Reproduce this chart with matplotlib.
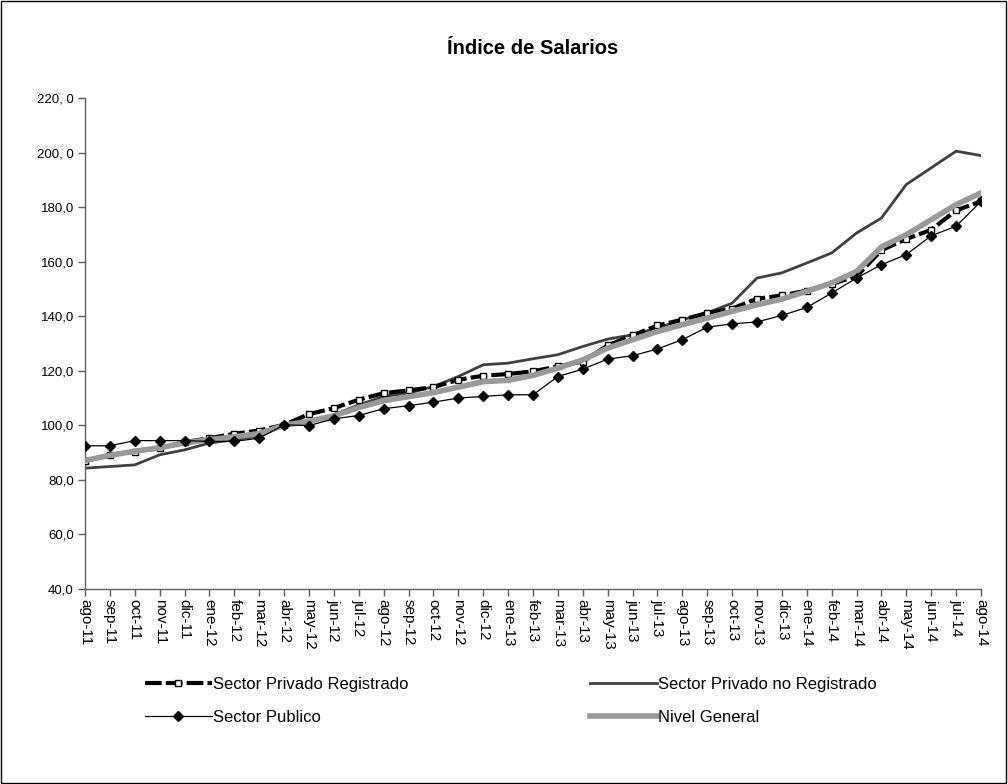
import numpy as np
import matplotlib
matplotlib.use("Agg")
import matplotlib.pyplot as plt
from matplotlib.patches import Rectangle

plt.rcParams['font.family'] = ['Liberation Sans', 'DejaVu Sans']

# meses ago-11 .. ago-14
meses = ['ago-11', 'sep-11', 'oct-11', 'nov-11', 'dic-11', 'ene-12', 'feb-12', 'mar-12',
         'abr-12', 'may-12', 'jun-12', 'jul-12', 'ago-12', 'sep-12', 'oct-12', 'nov-12',
         'dic-12', 'ene-13', 'feb-13', 'mar-13', 'abr-13', 'may-13', 'jun-13', 'jul-13',
         'ago-13', 'sep-13', 'oct-13', 'nov-13', 'dic-13', 'ene-14', 'feb-14', 'mar-14',
         'abr-14', 'may-14', 'jun-14', 'jul-14', 'ago-14']

privado_registrado = [87.0, 89.2, 90.4, 91.6, 93.8, 95.3, 96.9, 98.1, 100.2, 104.1, 106.3,
                      109.4, 111.8, 112.8, 114.0, 116.7, 118.2, 118.8, 119.8, 121.6, 123.4,
                      129.3, 133.0, 136.6, 138.7, 141.2, 142.8, 146.4, 147.6, 149.4, 151.9,
                      154.6, 164.2, 168.3, 171.7, 178.8, 182.1]

privado_no_registrado = [84.3, 84.9, 85.5, 89.2, 91.0, 93.5, 94.7, 96.1, 99.9, 101.4, 103.9,
                         107.5, 110.6, 111.8, 114.2, 117.9, 122.2, 122.8, 124.4, 125.9, 128.9,
                         131.6, 133.2, 135.7, 138.7, 141.2, 144.8, 154.0, 155.9, 159.5, 163.2,
                         170.5, 176.0, 188.3, 194.4, 200.5, 198.9]

publico = [92.5, 92.5, 94.4, 94.4, 94.4, 94.1, 94.1, 95.3, 100.2, 99.9, 102.4, 103.6, 106.1,
           107.2, 108.5, 110.0, 110.6, 111.2, 111.2, 117.9, 120.6, 124.3, 125.5, 128.0, 131.4,
           136.0, 137.2, 137.9, 140.3, 143.2, 148.5, 154.0, 158.9, 162.6, 169.5, 173.0, 182.1]

nivel_general = [87.1, 89.0, 90.5, 91.8, 93.5, 94.8, 95.8, 97.0, 100.0, 101.5, 103.5, 106.5,
                 109.0, 110.5, 112.0, 114.0, 116.0, 116.5, 118.3, 121.0, 124.0, 128.3, 131.4,
                 134.4, 136.9, 139.3, 141.8, 144.2, 146.3, 149.1, 152.2, 156.4, 165.4, 169.9,
                 175.4, 180.9, 185.2]

y_ticks = [40, 60, 80, 100, 120, 140, 160, 180, 200, 220]
y_labels = ['40,0', '60,0', '80,0', '100,0', '120,0', '140,0', '160,0', '180,0', '200, 0', '220, 0']

fig = plt.figure(figsize=(10.08, 7.84), dpi=100)
ax = fig.add_axes([85 / 1008, 1 - 589 / 784, 896 / 1008, (589 - 98) / 784])

x = np.arange(len(meses))

ax.plot(x, privado_registrado, color='black', lw=3, dashes=(4, 1),
        marker='s', ms=5, mfc='white', mec='black', mew=1,
        label='Sector Privado Registrado', zorder=3)
ax.plot(x, privado_no_registrado, color='#404040', lw=2,
        label='Sector Privado no Registrado', zorder=2)
ax.plot(x, nivel_general, color='#999999', lw=4,
        label='Nivel General', zorder=4)
ax.plot(x, publico, color='black', lw=0.9, marker='D', ms=5.5,
        label='Sector Publico', zorder=5)

ax.set_xlim(0, 36)
ax.set_ylim(40, 220)
ax.set_xticks(x)
ax.set_xticklabels(meses, rotation=-90, fontsize=11)
ax.set_yticks(y_ticks)
ax.set_yticklabels(y_labels, fontsize=9.5)

for side in ['top', 'right']:
    ax.spines[side].set_visible(False)
for side in ['left', 'bottom']:
    ax.spines[side].set_color('#606060')
    ax.spines[side].set_linewidth(1)
ax.tick_params(axis='both', direction='out', length=5, color='#606060', width=1, pad=3)
ax.tick_params(axis='x', pad=2)

fig.text(533 / 1008, 1 - 48 / 784, 'Índice de Salarios', ha='center', va='center',
         fontsize=14.5, fontweight='bold')

h = {l.get_label(): l for l in ax.get_lines()}
leg_kw = dict(loc='upper left', frameon=False, handlelength=4.0, handletextpad=0.1,
              labelspacing=1.1, borderpad=0, borderaxespad=0, numpoints=1,
              prop={'size': 12})
leg1 = fig.legend([h['Sector Privado Registrado'], h['Sector Publico']],
                  ['Sector Privado Registrado', 'Sector Publico'],
                  bbox_to_anchor=(145 / 1008, 1 - 677 / 784), **leg_kw)
leg2 = fig.legend([h['Sector Privado no Registrado'], h['Nivel General']],
                  ['Sector Privado no Registrado', 'Nivel General'],
                  bbox_to_anchor=(590 / 1008, 1 - 677 / 784), **leg_kw)

fig.patches.append(Rectangle((0.0005, 0.0007), 0.998, 0.998, transform=fig.transFigure,
                             fill=False, edgecolor='black', lw=1))

fig.savefig('out.png', dpi=100)
